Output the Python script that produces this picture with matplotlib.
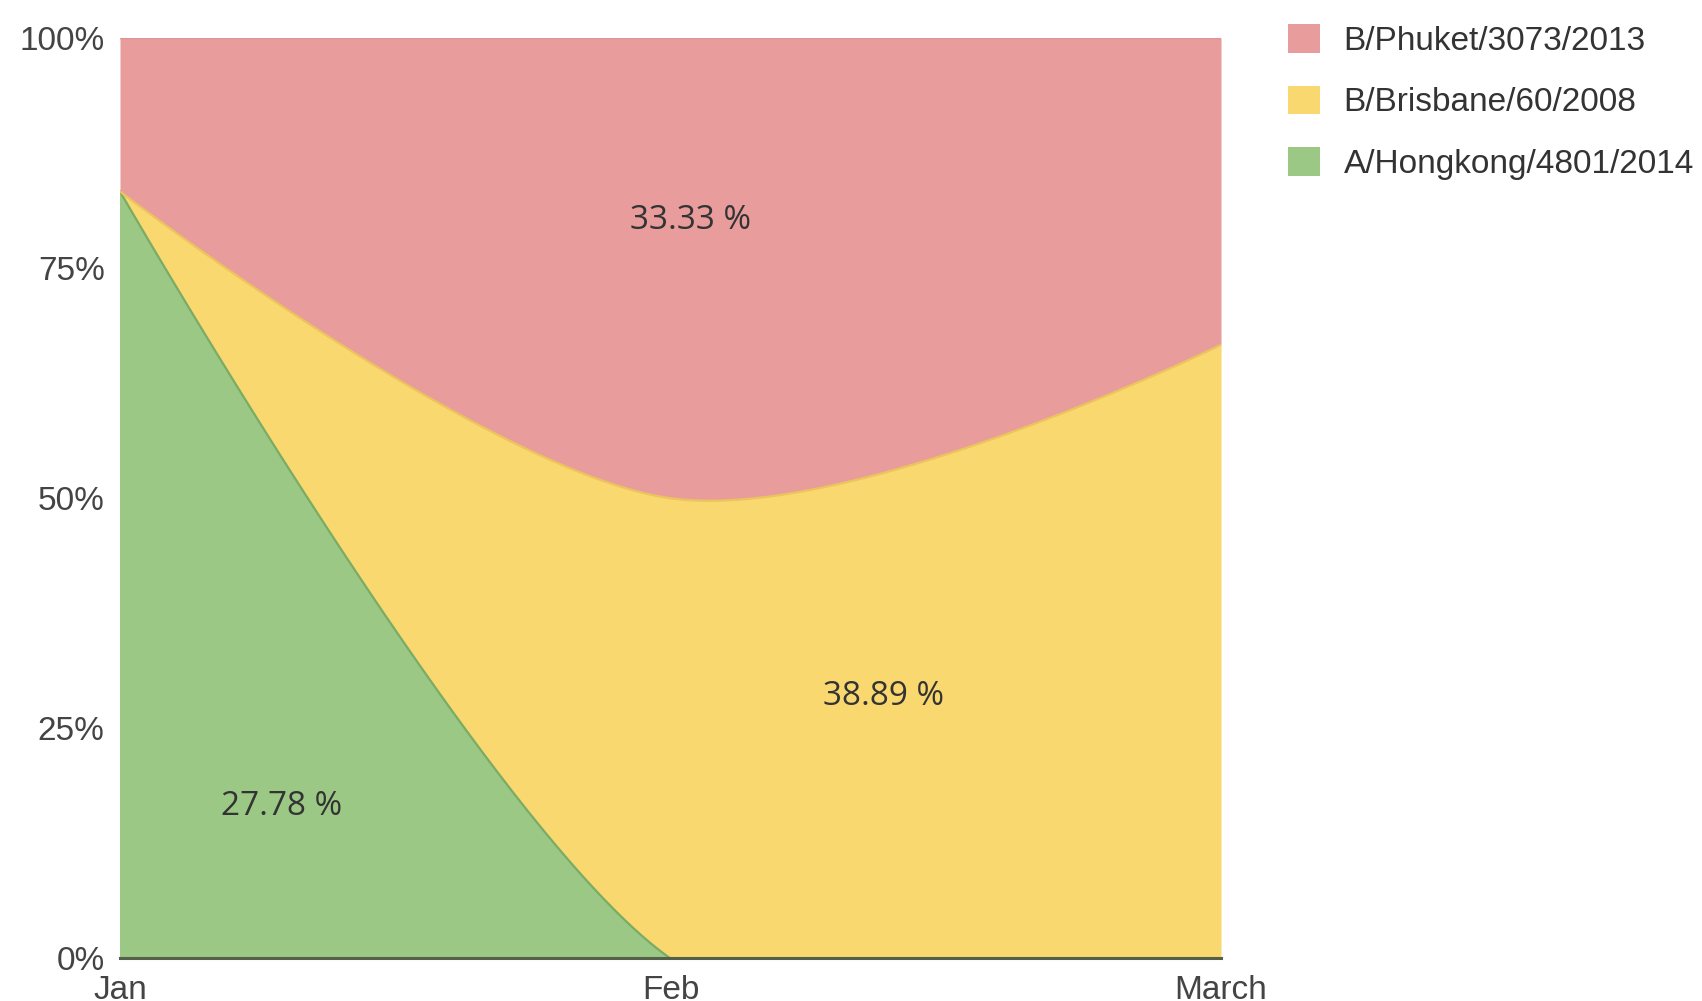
import numpy as np
import matplotlib
matplotlib.use("Agg")
import matplotlib.pyplot as plt
from matplotlib.patches import Patch

# ---- data ----
months = ["Jan", "Feb", "March"]
series_names = ["B/Phuket/3073/2013", "B/Brisbane/60/2008", "A/Hongkong/4801/2014"]
hongkong = [83.33, 0.0, 0.0]
brisbane = [0.0, 50.0, 66.67]
phuket = [16.67, 50.0, 33.33]
yticks = [0, 25, 50, 75, 100]
ytick_labels = ["0%", "25%", "50%", "75%", "100%"]

colors = {"phuket": "#e89c9c", "brisbane": "#f9d86f", "hongkong": "#9bc885"}
edges = {"phuket": "#e39196", "brisbane": "#ecc45c", "hongkong": "#7aac66"}


def cardinal(x, y, n=200):
    """Cardinal spline (tension 0) with d3-style endpoints."""
    P = np.column_stack([np.asarray(x, float), np.asarray(y, float)])
    k = 1.0 / 6.0
    N = len(P)
    xs, ys = [], []
    t = np.linspace(0, 1, n)[:, None]
    for i in range(N - 1):
        p0, p3 = P[i], P[i + 1]
        c1 = p0 if i == 0 else p0 + k * (P[i + 1] - P[i - 1])
        c2 = p3 if i == N - 2 else p3 - k * (P[i + 2] - P[i])
        b = ((1 - t) ** 3) * p0 + 3 * ((1 - t) ** 2) * t * c1 + 3 * (1 - t) * t ** 2 * c2 + t ** 3 * p3
        if i > 0:
            b = b[1:]
        xs.append(b[:, 0])
        ys.append(b[:, 1])
    return np.concatenate(xs), np.concatenate(ys)


xpos = np.arange(len(months))
c1 = np.array(hongkong)
c2 = c1 + np.array(brisbane)
c3 = c2 + np.array(phuket)

x1, y1 = cardinal(xpos, c1)
x2, y2 = cardinal(xpos, c2)
x3, y3 = cardinal(xpos, c3)

fig = plt.figure(figsize=(17.02, 10.01), dpi=100)
ax = fig.add_axes([0.0705, 0.0425, 0.6469, 0.9195])

ax.fill_between(x1, -50, y1, color=colors["hongkong"], lw=0)
ax.fill_between(x2, y1, y2, color=colors["brisbane"], lw=0)
ax.fill_between(x3, y2, y3, color=colors["phuket"], lw=0)
ax.plot(x1, y1, color=edges["hongkong"], lw=1.6)
ax.plot(x2, y2, color=edges["brisbane"], lw=1.6)
ax.plot(x3, y3, color=edges["phuket"], lw=1.6)

ax.set_xlim(0, 2)
ax.set_ylim(0, 100)
for sp in ["top", "right", "left"]:
    ax.spines[sp].set_visible(False)
ax.spines["bottom"].set_color("#55604a")
ax.spines["bottom"].set_linewidth(2.2)
ax.spines["bottom"].set_zorder(5)

ax.set_yticks(yticks)
ax.set_yticklabels(ytick_labels)
ax.set_xticks(xpos)
ax.set_xticklabels(months)
ax.tick_params(axis="both", length=0, labelsize=24, labelcolor="#444444")
ax.tick_params(axis="y", pad=11)
ax.tick_params(axis="x", pad=12)
for lab in ax.get_xticklabels() + ax.get_yticklabels():
    lab.set_family("Liberation Sans")

# average share labels
means = {
    "phuket": np.mean(phuket),
    "brisbane": np.mean(brisbane),
    "hongkong": np.mean(hongkong),
}
label_pos = {"phuket": (1.037, 80.2), "brisbane": (1.387, 28.5), "hongkong": (0.293, 16.5)}
for k, (lx, ly) in label_pos.items():
    ax.text(lx, ly, f"{means[k]:.2f} %", ha="center", va="center",
            fontsize=24, color="#333333", family="Open Sans", zorder=6)

handles = [Patch(facecolor=colors["phuket"], edgecolor="none"),
           Patch(facecolor=colors["brisbane"], edgecolor="none"),
           Patch(facecolor=colors["hongkong"], edgecolor="none")]
leg = fig.legend(handles, series_names, loc="upper left",
                 bbox_to_anchor=(1288 / 1702, 1 - 24 / 1001), frameon=False,
                 borderpad=0, borderaxespad=0,
                 prop={"family": "Liberation Sans", "size": 24},
                 handlelength=0.95, handleheight=0.95, handletextpad=0.72,
                 labelspacing=0.86)
for t in leg.get_texts():
    t.set_color("#333333")

fig.savefig("out.png", dpi=100)
